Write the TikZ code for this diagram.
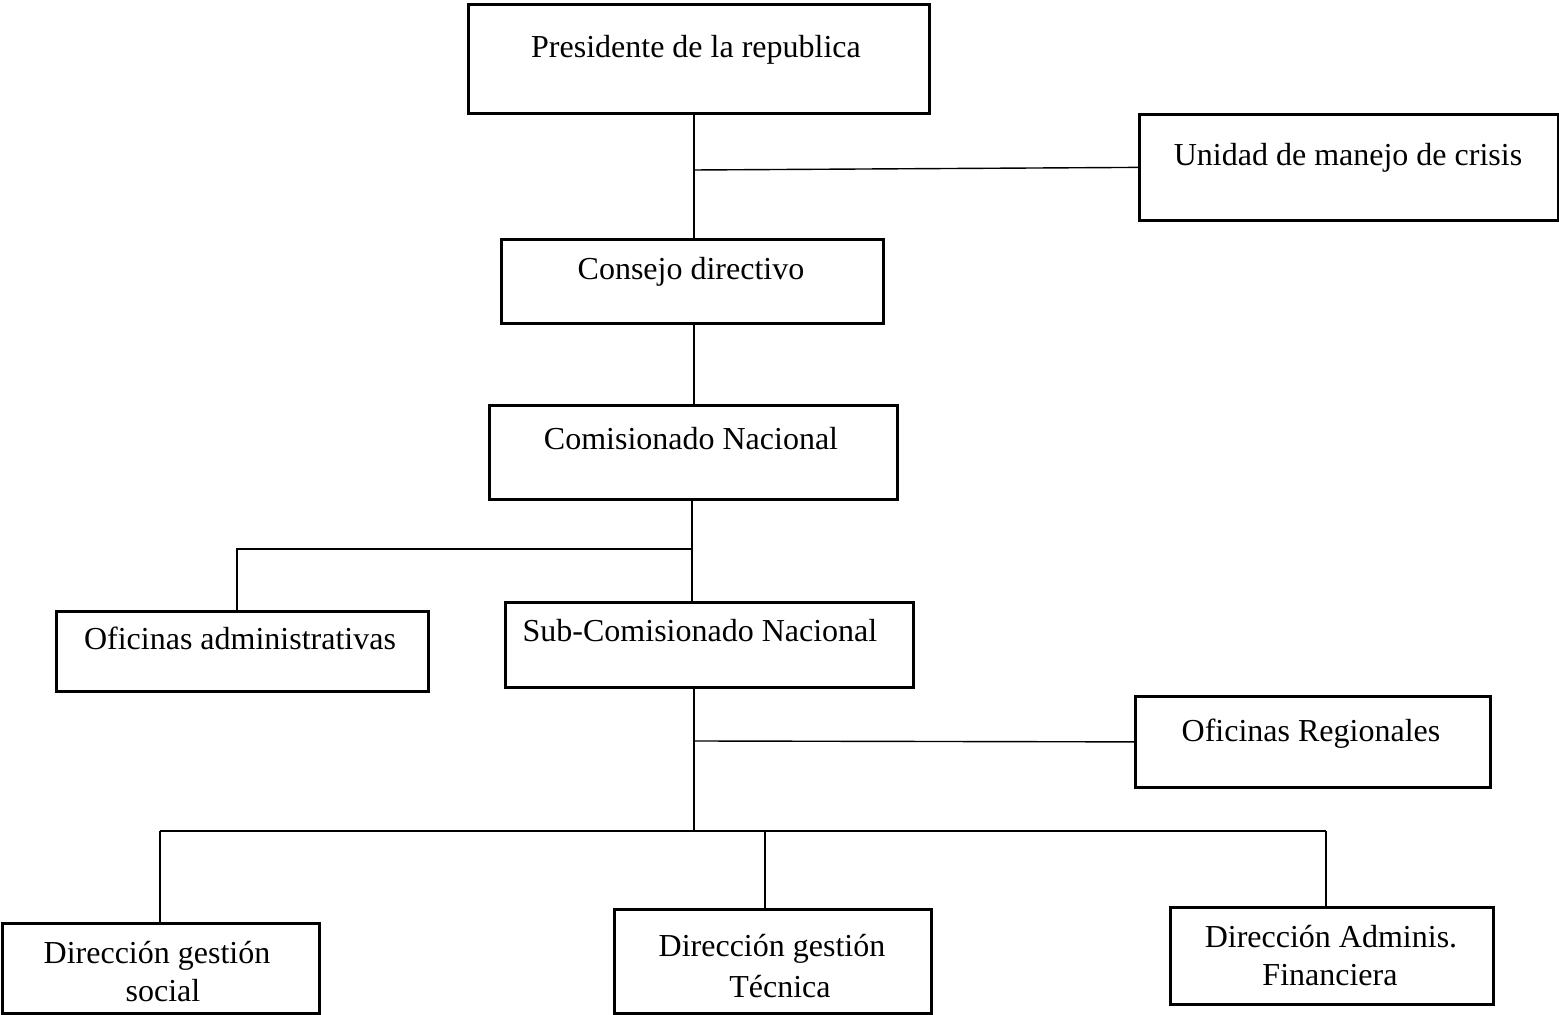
\documentclass[tikz,border=0pt]{standalone}
\usepackage{fontspec}
\setmainfont{Liberation Serif}
\begin{document}
\begin{tikzpicture}[x=0.5pt,y=-0.5pt,
  box/.style={draw, line width=1.4pt, inner sep=0pt, anchor=north west},
  lbl/.style={font=\fontsize{16}{19.5}\selectfont, inner sep=0pt, anchor=base},
  conn/.style={line width=0.7pt}]
\useasboundingbox (0,0) rectangle (1559,1015);
% boxes
\node[box, minimum width=230.5pt, minimum height=54.5pt] (pres) at (467,3) {};
\node[box, minimum width=209.5pt, minimum height=53pt] (unidad) at (1138,113) {};
\node[box, minimum width=191pt, minimum height=42pt] (consejo) at (500,238) {};
\node[box, minimum width=204pt, minimum height=47pt] (comis) at (488,404) {};
\node[box, minimum width=186pt, minimum height=40pt] (ofadm) at (55,610) {};
\node[box, minimum width=204pt, minimum height=42.5pt] (subcom) at (504,601) {};
\node[box, minimum width=177.5pt, minimum height=45.5pt] (ofreg) at (1134,695) {};
\node[box, minimum width=158.5pt, minimum height=45pt] (dsoc) at (1,922) {};
\node[box, minimum width=158.5pt, minimum height=52pt] (dtec) at (613,908) {};
\node[box, minimum width=161.5pt, minimum height=48.5pt] (dfin) at (1169,906) {};
% texts
\node[lbl] (tpres) at (696,58) {Presidente de la republica};
\node[lbl] (tunidad) at (1348,166) {Unidad de manejo de crisis};
\node[lbl] (tconsejo) at (691,280) {Consejo directivo};
\node[lbl] (tcomis) at (691,450) {Comisionado Nacional};
\node[lbl] (tofadm) at (240,650) {Oficinas administrativas};
\node[lbl] (tsubcom) at (700,642) {Sub-Comisionado Nacional};
\node[lbl] (tofreg) at (1311,741) {Oficinas Regionales};
\node[lbl] (tdsoc1) at (157,963) {Dirección gestión};
\node[lbl] (tdsoc2) at (163,1001) {social};
\node[lbl] (tdtec1) at (772,956) {Dirección gestión};
\node[lbl] (tdtec2) at (780,997) {Técnica};
\node[lbl] (tdfin1) at (1331,947) {Dirección Adminis.};
\node[lbl] (tdfin2) at (1330,985) {Financiera};
% connectors
\coordinate (j1) at (694,170);
\draw[conn] (j1 |- pres.south) -- (j1 |- consejo.north);
\draw[conn] (j1) -- (unidad.west);
\coordinate (j2) at (694,330);
\draw[conn] (consejo.south -| j2) -- (comis.north -| j2);
\coordinate (j3) at (692,549);
\coordinate (j3l) at (237,549);
\draw[conn] (comis.south -| j3) -- (subcom.north -| j3);
\draw[conn] (j3) -- (j3l) -- (ofadm.north -| j3l);
\coordinate (j4) at (694,741);
\coordinate (j5) at (694,831);
\draw[conn] (subcom.south -| j4) -- (j5);
\draw[conn] (j4) -- (ofreg.west);
\coordinate (bl) at (160,831);
\coordinate (bm) at (765,831);
\coordinate (br) at (1326,831);
\draw[conn] (bl) -- (br);
\draw[conn] (bl) -- (dsoc.north -| bl);
\draw[conn] (bm) -- (dtec.north -| bm);
\draw[conn] (br) -- (dfin.north -| br);
\end{tikzpicture}
\end{document}
